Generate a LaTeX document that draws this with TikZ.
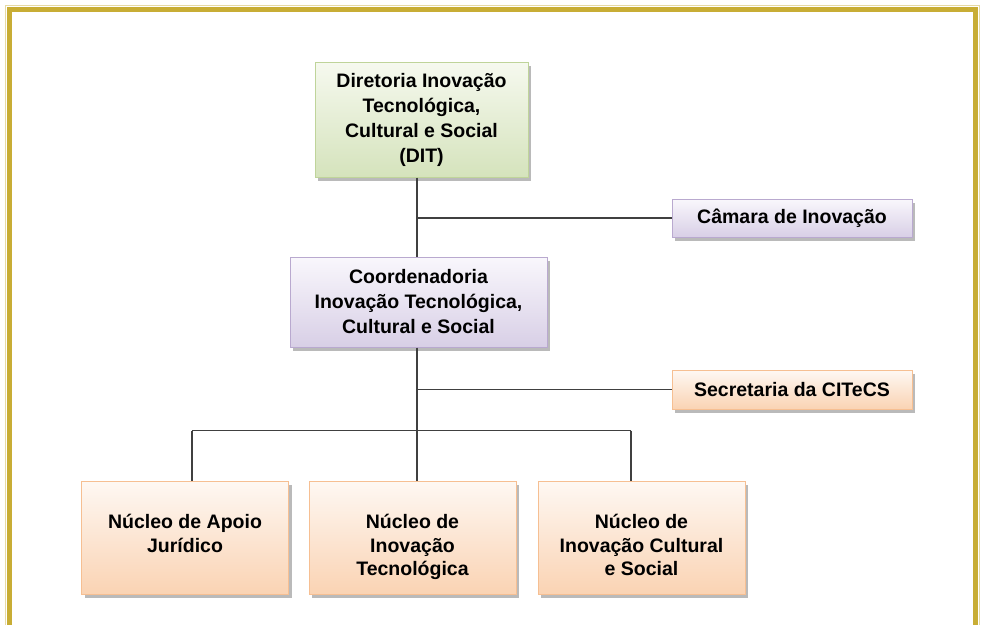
\documentclass[tikz,border=0pt]{standalone}
\usepackage{fontspec}
\setmainfont{Liberation Sans}
\usetikzlibrary{shadows}
\definecolor{gold}{HTML}{C8AD35}
\definecolor{linec}{HTML}{404040}
\definecolor{greenT}{HTML}{F6F9EF}
\definecolor{greenB}{HTML}{D5E3BC}
\definecolor{greenD}{HTML}{BFD49A}
\definecolor{lavT}{HTML}{F9F7FC}
\definecolor{lavB}{HTML}{D8CFE6}
\definecolor{lavD}{HTML}{B9A9CF}
\definecolor{peachT}{HTML}{FEF8F3}
\definecolor{peachB}{HTML}{FAD3B3}
\definecolor{peachD}{HTML}{F6BF92}
\tikzset{
  boxbase/.style={rectangle, inner sep=0pt, align=center,
    font=\fontsize{19.5}{25}\selectfont\bfseries, text=black, line width=1pt,
    drop shadow={shadow xshift=3pt, shadow yshift=-4pt, fill=black!45, opacity=0.6}},
  greenbox/.style={boxbase, draw=greenD, top color=greenT, bottom color=greenB},
  lavbox/.style={boxbase, draw=lavD, top color=lavT, bottom color=lavB},
  peachbox/.style={boxbase, draw=peachD, top color=peachT, bottom color=peachB},
  nucleo/.style={peachbox, minimum width=207pt, minimum height=113pt},
  boxtext/.style={inner sep=0pt, align=center, anchor=north,
    font=\fontsize{19.5}{23.5}\selectfont\bfseries, text=black},
  conn/.style={draw=linec, line width=1.8pt}
}
\begin{document}
\begin{tikzpicture}[x=1pt,y=-1pt]
\useasboundingbox (0,0) rectangle (984,624);
\fill[white] (0,0) rectangle (984,624);
\begin{scope}
\clip (0,0) rectangle (984,624);
\draw[gold!45, line width=1.5pt] (5.5,5.5) rectangle (979.5,700);
\draw[gold, line width=5pt] (9.5,9.5) rectangle (975.5,700);
\end{scope}

\node[greenbox, minimum width=213pt, minimum height=115pt] (dit) at (421.5,119.5)
  {Diretoria Inovação\\Tecnológica,\\Cultural e Social\\(DIT)};
\node[lavbox, minimum width=240pt, minimum height=38pt] (cam) at (792,218)
  {Câmara de Inovação};
\node[lavbox, minimum width=257pt, minimum height=90pt] (coord) at (418.5,302)
  {Coordenadoria\\Inovação Tecnológica,\\Cultural e Social};
\node[peachbox, minimum width=240pt, minimum height=39pt] (sec) at (792,389.5)
  {Secretaria da CITeCS};
\node[nucleo] (n1) at (185,537.5) {};
\node[nucleo] (n2) at (412.5,537.5) {};
\node[nucleo] (n3) at (641.5,537.5) {};
\node[boxtext] (n1t) at (185,514) {Núcleo de Apoio\\Jurídico};
\node[boxtext] (n2t) at (412.5,514) {Núcleo de\\Inovação\\Tecnológica};
\node[boxtext] (n3t) at (641.5,514) {Núcleo de\\Inovação Cultural\\e Social};

\coordinate (j1) at (417,218);
\coordinate (j2) at (417,389.5);
\coordinate (bl) at (192,430.5);
\coordinate (br) at (631,430.5);

\draw[conn] (dit.south -| j1) -- (coord.north -| j1);
\draw[conn] (j1) -- (cam.west);
\draw[conn] (coord.south -| j2) -- (n2.north -| j2);
\draw[conn] (j2) -- (sec.west);
\draw[conn] (bl) -- (br);
\draw[conn] (bl) -- (n1.north -| bl);
\draw[conn] (br) -- (n3.north -| br);
\end{tikzpicture}
\end{document}
